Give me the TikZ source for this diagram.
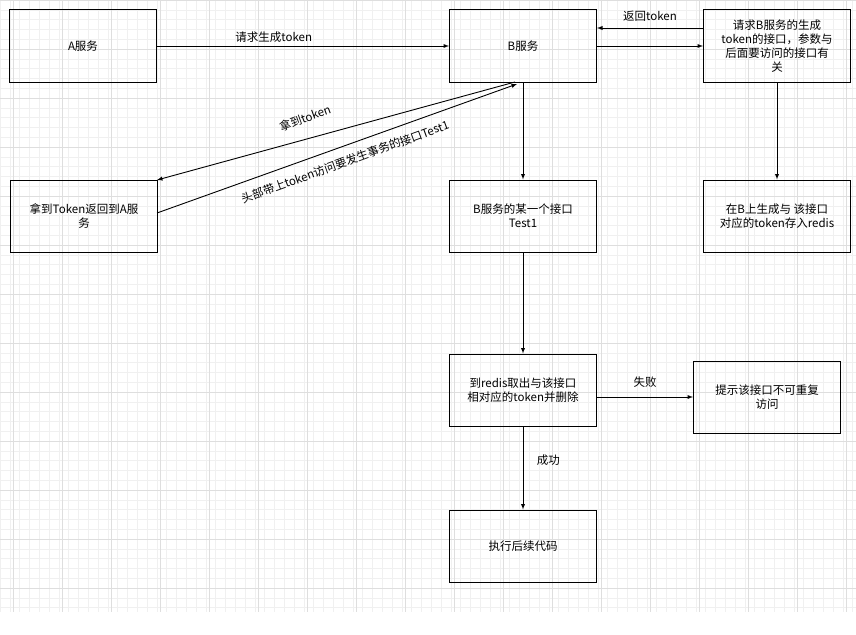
\documentclass[tikz,border=0pt]{standalone}
\usepackage{fontspec}
\setmainfont{Noto Sans CJK SC}
\begin{document}
\begin{tikzpicture}[x=1pt,y=-1pt,
  box/.style={draw,line width=1pt,minimum width=147pt,minimum height=72pt,align=center,font=\fontsize{11.5}{14}\selectfont},
  arr/.style={-latex,line width=0.9pt},
  lbl/.style={font=\fontsize{11.5}{14}\selectfont}]
\useasboundingbox (0,0) rectangle (856,634);
\fill[white] (0,0) rectangle (856,634);
\foreach \i in {0,...,87} {
  \draw[black!6,line width=0.4pt] (\i*9.8,0) -- (\i*9.8,612);
}
\foreach \i in {0,...,62} {
  \draw[black!6,line width=0.4pt] (0,\i*9.8) -- (856,\i*9.8);
}
\foreach \i in {0,...,17} {
  \draw[black!13,line width=0.6pt] (13+\i*49,0) -- (13+\i*49,612);
}
\foreach \i in {0,...,12} {
  \draw[black!13,line width=0.6pt] (0,\i*49) -- (856,\i*49);
}
\node[box] (a) at (83,46) {A服务};
\node[box] (b) at (523,46) {B服务};
\node[box] (req) at (777,46) {请求B服务的生成\\token的接口，参数与\\后面要访问的接口有\\关};
\node[box] (ret) at (84,216) {拿到Token返回到A服\\务};
\node[box] (t1) at (523,216) {B服务的某一个接口\\Test1};
\node[box] (gen) at (777,216) {在B上生成与 该接口\\对应的token存入redis};
\node[box] (rd) at (523,390) {到redis取出与该接口\\相对应的token并删除};
\node[box] (fail) at (767,397) {提示该接口不可重复\\访问};
\node[box] (ex) at (523,546) {执行后续代码};
\coordinate (bb1) at (515,82);
\coordinate (bb2) at (517,84);
\coordinate (rr1) at (157,180);
\coordinate (rr2) at (157,213);
\draw[arr] (a) -- node[lbl,above,pos=0.4] {请求生成token} (b);
\draw[arr] (req.west |- 0,28) -- node[lbl,above=3pt] {返回token} (b.east |- 0,28);
\draw[arr] (b.east) -- (req.west);
\draw[arr] (bb1) -- (rr1);
\draw[arr] (rr2) -- (bb2);
\node[lbl,rotate=20] at (305,118) {拿到token};
\node[lbl,rotate=20] at (345,162) {头部带上token访问要发生事务的接口Test1};
\draw[arr] (b) -- (t1);
\draw[arr] (req) -- (gen);
\draw[arr] (t1) -- (rd);
\draw[arr] (rd.east |- fail.west) -- node[lbl,above=6pt] {失败} (fail.west);
\draw[arr] (rd) -- node[lbl,right=10pt,pos=0.4] {成功} (ex);
\end{tikzpicture}
\end{document}
